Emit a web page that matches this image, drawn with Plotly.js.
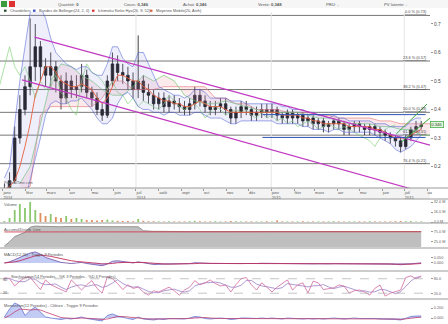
<!DOCTYPE html>
<html><head><meta charset="utf-8">
<script src="https://cdn.plot.ly/plotly-3.0.1.min.js"></script>
<style>html,body{margin:0;padding:0;background:#fff}#chart{width:448px;height:324px}</style>
</head><body><div id="chart"></div>
<script>
// ---------- DATA (weekly) ----------
const firstWeek = '2014-01-03';
const opens  = [0.10,0.12,0.15,0.30,0.40,0.48,0.55,0.62,0.55,0.52,0.55,0.50,0.44,0.50,0.47,0.48,0.52,0.46,0.44,0.40,0.38,0.50,0.56,0.53,0.52,0.50,0.47,0.50,0.46,0.45,0.42,0.44,0.41,0.43,0.42,0.41,0.40,0.42,0.45,0.43,0.41,0.40,0.41,0.42,0.40,0.37,0.39,0.41,0.40,0.38,0.39,0.40,0.39,0.40,0.38,0.37,0.39,0.37,0.38,0.36,0.37,0.35,0.36,0.34,0.35,0.36,0.35,0.33,0.34,0.35,0.34,0.33,0.34,0.33,0.32,0.31,0.30,0.29,0.27,0.30,0.33,0.34];
const highs  = [0.14,0.18,0.34,0.45,0.52,0.72,0.70,0.64,0.58,0.60,0.57,0.52,0.53,0.52,0.52,0.56,0.54,0.48,0.46,0.42,0.52,0.60,0.59,0.56,0.55,0.53,0.66,0.52,0.49,0.47,0.46,0.46,0.45,0.45,0.44,0.43,0.44,0.48,0.47,0.45,0.43,0.43,0.44,0.44,0.41,0.41,0.43,0.43,0.41,0.41,0.42,0.42,0.42,0.41,0.39,0.40,0.40,0.39,0.39,0.38,0.38,0.37,0.37,0.36,0.37,0.37,0.36,0.35,0.36,0.36,0.35,0.35,0.35,0.34,0.33,0.32,0.31,0.30,0.31,0.34,0.36,0.36];
const lows   = [0.09,0.10,0.14,0.28,0.38,0.45,0.50,0.50,0.48,0.48,0.46,0.40,0.42,0.44,0.44,0.46,0.44,0.41,0.38,0.36,0.37,0.48,0.50,0.49,0.47,0.44,0.44,0.43,0.42,0.40,0.40,0.39,0.39,0.40,0.39,0.38,0.38,0.40,0.41,0.39,0.38,0.38,0.39,0.38,0.35,0.35,0.37,0.38,0.36,0.36,0.37,0.37,0.37,0.36,0.35,0.35,0.35,0.35,0.34,0.34,0.33,0.33,0.32,0.32,0.33,0.33,0.31,0.31,0.32,0.32,0.31,0.31,0.31,0.30,0.29,0.28,0.27,0.25,0.26,0.29,0.32,0.33];
const closes = [0.12,0.15,0.30,0.40,0.48,0.55,0.62,0.55,0.52,0.55,0.50,0.44,0.50,0.47,0.48,0.52,0.46,0.44,0.40,0.38,0.50,0.56,0.53,0.52,0.50,0.47,0.50,0.46,0.45,0.42,0.44,0.41,0.43,0.42,0.41,0.40,0.42,0.45,0.43,0.41,0.40,0.41,0.42,0.40,0.37,0.39,0.41,0.40,0.38,0.39,0.40,0.39,0.40,0.38,0.37,0.39,0.37,0.38,0.36,0.37,0.35,0.36,0.34,0.35,0.36,0.35,0.33,0.34,0.35,0.34,0.33,0.34,0.33,0.32,0.31,0.30,0.29,0.27,0.30,0.33,0.34,0.346];
const bollUpper = [0.16,0.20,0.35,0.50,0.62,0.74,0.78,0.76,0.72,0.65,0.60,0.58,0.56,0.55,0.54,0.55,0.55,0.53,0.52,0.52,0.56,0.62,0.62,0.58,0.56,0.55,0.60,0.60,0.56,0.52,0.48,0.47,0.46,0.45,0.45,0.44,0.45,0.47,0.47,0.46,0.44,0.44,0.44,0.44,0.43,0.43,0.43,0.42,0.42,0.42,0.42,0.42,0.42,0.42,0.41,0.41,0.40,0.40,0.40,0.39,0.39,0.38,0.38,0.37,0.38,0.37,0.37,0.36,0.36,0.36,0.36,0.36,0.35,0.35,0.35,0.34,0.34,0.34,0.34,0.36,0.37,0.37];
const bollLower = [0.08,0.08,0.05,0.05,0.08,0.15,0.22,0.30,0.38,0.42,0.43,0.42,0.42,0.43,0.43,0.44,0.42,0.40,0.37,0.35,0.35,0.37,0.42,0.45,0.46,0.44,0.41,0.40,0.40,0.39,0.39,0.38,0.39,0.39,0.38,0.38,0.38,0.39,0.39,0.38,0.37,0.37,0.37,0.36,0.35,0.35,0.36,0.36,0.36,0.36,0.36,0.36,0.36,0.35,0.35,0.35,0.35,0.35,0.34,0.34,0.33,0.33,0.33,0.32,0.33,0.33,0.32,0.32,0.32,0.32,0.32,0.32,0.31,0.30,0.29,0.28,0.26,0.25,0.26,0.27,0.29,0.31];
const ma20 = [0.12,0.13,0.15,0.20,0.27,0.35,0.45,0.50,0.55,0.55,0.53,0.50,0.49,0.48,0.48,0.49,0.48,0.47,0.44,0.42,0.44,0.48,0.52,0.52,0.51,0.50,0.50,0.48,0.47,0.45,0.44,0.43,0.43,0.42,0.42,0.41,0.41,0.42,0.43,0.42,0.41,0.41,0.41,0.40,0.39,0.39,0.39,0.39,0.39,0.39,0.39,0.39,0.39,0.39,0.38,0.38,0.38,0.38,0.37,0.37,0.36,0.36,0.35,0.35,0.35,0.35,0.35,0.34,0.34,0.34,0.34,0.34,0.33,0.33,0.32,0.31,0.30,0.30,0.30,0.31,0.32,0.33];
// Ichimoku cloud (bi-weekly, already shifted forward)
const cloudStart = '2014-01-24';
const senkouA = [0.14,0.20,0.35,0.50,0.56,0.55,0.52,0.50,0.47,0.45,0.45,0.48,0.52,0.50,0.52,0.50,0.45,0.43,0.42,0.42,0.43,0.42,0.41,0.40,0.39,0.39,0.39,0.39,0.38,0.37,0.37,0.36,0.35,0.35,0.35,0.34,0.34,0.33,0.33,0.31,0.31];
const senkouB = [0.12,0.13,0.38,0.41,0.41,0.41,0.41,0.41,0.44,0.50,0.50,0.47,0.47,0.47,0.48,0.48,0.48,0.48,0.48,0.44,0.44,0.42,0.42,0.40,0.40,0.40,0.39,0.39,0.39,0.38,0.38,0.37,0.37,0.37,0.37,0.36,0.36,0.35,0.35,0.35,0.35];
// Fibonacci retracement
const fibLevels = [0.73,0.57,0.47,0.39,0.31,0.21];
const fibNames  = ['0.0 % (0.73)','23.6 % (0.57)','38.2 % (0.47)','50.0 % (0.39)','61.8 % (0.31)','76.4 % (0.21)'];
// drawn trend lines
const chanUpDates = ['2014-02-13','2015-08-05'], chanUpVals = [0.654,0.275];
const chanLoDates = ['2014-01-27','2015-08-05'], chanLoVals = [0.504,0.103];
const boxDates = ['2014-12-20','2015-07-30'], boxTop = 0.382, boxBot = 0.302;
const greenA_Dates = ['2015-06-20','2015-08-01'], greenA_Vals = [0.314,0.419];
const greenB_Dates = ['2015-06-27','2015-08-05'], greenB_Vals = [0.286,0.370];
// volume (relative units)
const volume = [5,20,60,90,70,100,60,45,30,40,25,20,30,15,20,15,10,10,8,10,12,8,6,5,5,4,15,6,4,4,3,3,4,3,3,3,4,6,4,3,3,4,3,3,5,4,3,3,3,3,3,4,3,8,3,3,3,3,4,3,3,3,3,3,4,3,3,3,3,3,3,4,3,3,3,3,4,5,4,5,3,3];
// accumulation / distribution
const accDist = [5,25,50,62,70,95,100,99,98,98,97,97,98,98,98,97,97,97,96,96,98,99,99,99,98,98,97,78,75,75,75,74,74,74,74,74,74,75,75,74,74,74,74,74,73,73,74,74,74,74,74,74,74,75,74,74,74,74,74,73,73,73,73,73,73,73,73,73,73,73,73,73,73,73,73,73,73,72,73,74,74,74];
const accDistMa = [72,72,72,72,72,72,72,72,73,73,73,73,73,73,73,73,73,73,73,73,73,73,73,73,73,73,73,73,73,73,73,73,73,73,73,73,73,73,73,73,73,73,73,73,73,73,73,73,73,73,73,73,73,73,73,73,73,73,73,73,73,73,73,73,73,73,73,73,73,73,73,73,73,73,73,73,73,73,73,73,73,73];
// MACD
const macd = [0,0.01,0.03,0.05,0.07,0.09,0.10,0.08,0.05,0.035,0.02,0.005,0,-0.005,0,0.005,-0.005,-0.01,-0.02,-0.025,-0.01,0.015,0.02,0.012,0.006,0,0.01,0.002,-0.008,-0.014,-0.012,-0.012,-0.01,-0.009,-0.009,-0.01,-0.006,0.002,0.002,-0.002,-0.005,-0.005,-0.004,-0.005,-0.01,-0.008,-0.004,-0.004,-0.006,-0.005,-0.003,-0.004,-0.003,-0.005,-0.007,-0.005,-0.006,-0.005,-0.007,-0.006,-0.008,-0.007,-0.009,-0.008,-0.006,-0.006,-0.008,-0.007,-0.006,-0.006,-0.007,-0.006,-0.007,-0.008,-0.009,-0.011,-0.013,-0.016,-0.012,-0.006,-0.002,0.001];
const macdSignal = [0,0.003,0.01,0.02,0.035,0.05,0.065,0.072,0.068,0.06,0.05,0.038,0.028,0.02,0.014,0.011,0.007,0.003,-0.003,-0.009,-0.01,-0.005,0.002,0.006,0.006,0.004,0.006,0.005,0.001,-0.004,-0.007,-0.009,-0.01,-0.01,-0.009,-0.009,-0.009,-0.006,-0.003,-0.002,-0.003,-0.004,-0.004,-0.005,-0.007,-0.007,-0.006,-0.005,-0.005,-0.005,-0.004,-0.004,-0.004,-0.004,-0.005,-0.005,-0.006,-0.005,-0.006,-0.006,-0.007,-0.007,-0.008,-0.008,-0.007,-0.007,-0.007,-0.007,-0.007,-0.006,-0.006,-0.006,-0.007,-0.007,-0.008,-0.009,-0.011,-0.013,-0.013,-0.011,-0.008,-0.005];
// Stochastic
const stochK = [85,80,50,70,85,87,60,35,75,55,45,35,25,75,55,33,55,72,40,20,88,80,60,35,55,40,45,25,12,30,25,35,45,30,12,33,45,72,55,63,75,60,50,54,25,55,80,85,55,33,63,45,25,45,60,75,33,55,63,21,70,63,35,40,42,54,50,21,30,33,25,12,40,54,8,20,25,33,85,92,80,92];
const stochD = [80,82,72,68,68,80,78,62,55,55,58,45,35,45,52,55,48,53,55,44,50,62,76,60,50,45,47,37,27,22,22,30,35,37,29,25,30,50,58,63,64,66,62,55,45,45,53,73,73,58,50,47,44,38,43,60,56,54,50,46,51,51,56,46,39,45,49,42,34,28,30,24,26,35,34,27,18,26,48,70,86,88];
// Momentum
const momentum = [0.02,0.18,0.30,0.25,0.05,0.15,0.22,0.12,0.02,0,-0.01,-0.03,-0.01,-0.02,0,0.02,-0.01,-0.03,-0.05,-0.06,0.05,0.08,0.04,0.01,-0.01,-0.03,0.02,-0.02,-0.03,-0.04,-0.02,-0.03,-0.01,-0.01,-0.02,-0.02,0,0.03,0.02,-0.01,-0.02,-0.01,0,-0.01,-0.03,-0.02,0,0,-0.01,-0.01,0,-0.01,0,-0.01,-0.02,0,-0.01,-0.01,-0.02,-0.01,-0.02,-0.01,-0.02,-0.01,0,-0.01,-0.02,-0.01,0,-0.01,-0.01,0,-0.01,-0.02,-0.02,-0.03,-0.03,-0.04,0,0.03,0.04,0.04];
const momTrigger = [0,0.05,0.12,0.18,0.17,0.16,0.17,0.16,0.12,0.08,0.04,0.01,0,-0.01,-0.01,0,0,-0.01,-0.02,-0.03,-0.02,0,0.03,0.03,0.02,0,0,-0.01,-0.02,-0.02,-0.02,-0.02,-0.02,-0.01,-0.01,-0.01,-0.01,0,0.01,0.01,0,-0.01,-0.01,-0.01,-0.01,-0.01,-0.01,-0.01,-0.01,-0.01,-0.01,-0.01,-0.01,-0.01,-0.01,-0.01,-0.01,-0.01,-0.01,-0.01,-0.01,-0.01,-0.01,-0.01,-0.01,-0.01,-0.01,-0.01,-0.01,-0.01,-0.01,-0.01,-0.01,-0.01,-0.01,-0.02,-0.02,-0.03,-0.02,-0.01,0.01,0.02];
// axis ticks
const monthTicks  = ['2014-01-01','2014-02-01','2014-03-01','2014-04-01','2014-05-01','2014-06-01','2014-07-01','2014-08-01','2014-09-01','2014-10-01','2014-11-01','2014-12-01','2015-01-01','2015-02-01','2015-03-01','2015-04-01','2015-05-01','2015-06-01','2015-07-01','2015-08-01'];
const monthLabels = ['janv<br>2014','févr','mars','avr','mai','juin','juil<br>2014','août','sept','oct','nov','déc','janv<br>2015','févr','mars','avr','mai','juin','juil<br>2015','ao'];
const priceTicks = [0.2,0.3,0.4,0.5,0.6,0.7];
const lastPrice = 0.346;

// ---------- helpers ----------
function dateSeq(start, n, stepDays, shiftDays) {
  const out = []; const d0 = new Date(start + 'T00:00:00Z');
  for (let i = 0; i < n; i++) {
    const d = new Date(d0.getTime() + (i * stepDays + (shiftDays||0)) * 86400000);
    out.push(d.toISOString().slice(0,10));
  }
  return out;
}
const wk = dateSeq(firstWeek, closes.length, 7, 0);
const chikouDates = dateSeq(firstWeek, closes.length, 7, -35);
const cloudDates = dateSeq(cloudStart, senkouA.length, 14, 0);
const H = 324, W = 430;
const py = p => 1 - p / H;
const FONT = 'Liberation Sans, Arial, sans-serif';
const TXT = 3.9;

const traces = [
  {x: cloudDates, y: senkouB, type:'scatter', mode:'lines', line:{color:'rgba(230,110,110,0.75)', width:0.8}, hoverinfo:'skip'},
  {x: cloudDates, y: senkouA, type:'scatter', mode:'lines', fill:'tonexty', fillcolor:'rgba(240,140,150,0.18)', line:{color:'rgba(110,200,110,0.85)', width:0.8}, hoverinfo:'skip'},
  {x: chikouDates, y: closes, type:'scatter', mode:'lines', line:{color:'rgba(130,210,120,0.85)', width:0.8}, hoverinfo:'skip'},
  {x: wk, y: bollLower, type:'scatter', mode:'lines', line:{color:'rgba(70,90,210,0.75)', width:0.7}, hoverinfo:'skip'},
  {x: wk, y: bollUpper, type:'scatter', mode:'lines', fill:'tonexty', fillcolor:'rgba(160,160,240,0.17)', line:{color:'rgba(70,90,210,0.75)', width:0.7}, hoverinfo:'skip'},
  {x: wk, y: ma20, type:'scatter', mode:'lines', line:{color:'#e8603c', width:0.9}, hoverinfo:'skip'},
  {x: wk, open: opens, high: highs, low: lows, close: closes, type:'candlestick', whiskerwidth:0,
   increasing:{line:{color:'#111', width:0.8}, fillcolor:'#111'}, decreasing:{line:{color:'#111', width:0.8}, fillcolor:'#111'}, hoverinfo:'skip'},
  {x: wk, y: volume, type:'bar', yaxis:'y2', marker:{color: closes.map((c,i)=> c>=opens[i] ? '#8cc870' : '#e09060')}, width: 2.5*86400000, hoverinfo:'skip'},
  {x: wk, y: accDist, type:'scatter', mode:'lines', yaxis:'y3', fill:'tozeroy', fillcolor:'rgba(170,170,170,0.75)', line:{color:'#777', width:0.7}, hoverinfo:'skip'},
  {x: wk, y: accDistMa, type:'scatter', mode:'lines', yaxis:'y3', line:{color:'#d04050', width:0.9}, hoverinfo:'skip'},
  {x: wk, y: macd, type:'scatter', mode:'lines', yaxis:'y4', fill:'tozeroy', fillcolor:'rgba(120,140,230,0.45)', line:{color:'#7a5fb0', width:0.9}, hoverinfo:'skip'},
  {x: wk, y: macdSignal, type:'scatter', mode:'lines', yaxis:'y4', line:{color:'#c03060', width:0.9}, hoverinfo:'skip'},
  {x: wk, y: stochD, type:'scatter', mode:'lines', yaxis:'y5', line:{color:'#9a80c8', width:0.8}, hoverinfo:'skip'},
  {x: wk, y: stochK, type:'scatter', mode:'lines', yaxis:'y5', line:{color:'#d06aa0', width:0.8}, hoverinfo:'skip'},
  {x: wk, y: momentum, type:'scatter', mode:'lines', yaxis:'y6', fill:'tozeroy', fillcolor:'rgba(120,140,230,0.45)', line:{color:'#6a78d0', width:0.8}, hoverinfo:'skip'},
  {x: wk, y: momTrigger, type:'scatter', mode:'lines', yaxis:'y6', line:{color:'#c04070', width:0.8}, hoverinfo:'skip'}
];

const smallAxis = (dom, rng, tv, tt) => ({domain:dom, range:rng, side:'right', anchor:'x', showgrid:false, zeroline:false,
  tickvals:tv, ticktext:tt, ticks:'outside', ticklen:2, tickcolor:'#999', tickfont:{size:3.8, color:'#666', family:FONT}, fixedrange:true});

const shapes = [];
const annotations = [];
// toolbar
shapes.push({type:'rect', xref:'paper', yref:'paper', x0:0, x1:448/W, y0:py(8), y1:1, fillcolor:'#f6f6f6', line:{width:0}, layer:'below'});
shapes.push({type:'rect', xref:'paper', yref:'paper', x0:1/W, x1:7/W, y0:py(7), y1:py(1), fillcolor:'#3c9c3c', line:{width:0}});
shapes.push({type:'rect', xref:'paper', yref:'paper', x0:9/W, x1:15/W, y0:py(7), y1:py(1), fillcolor:'#d33', line:{width:0}});
const toolbarItems = [['Quantité: <b>0</b>',68],['Cours: <b>0,346</b>',136],['Achat: <b>0,346</b>',195],['Vente: <b>0,348</b>',270],['PRU: -',332],['PV latente: -',396]];
toolbarItems.forEach(t => annotations.push({xref:'paper', yref:'paper', x:t[1]/W, y:py(4), text:t[0], showarrow:false, font:{size:4.2, color:'#555', family:FONT}, xanchor:'center', yanchor:'middle'}));
// legend
const legendItems = [['Chandeliers',4,'#2a4a2a'],['Bandes de Bollinger(24, 2, 0)',33,'#3b4fc4'],['Ichimoku Kinko Hyo(26, 9, 52)',92,'#d33'],['Moyenne Mobile(20, Arith)',150,'#e8603c']];
legendItems.forEach(t => {
  shapes.push({type:'rect', xref:'paper', yref:'paper', x0:t[1]/W, x1:(t[1]+2.5)/W, y0:py(11.8), y1:py(9.6), fillcolor:t[2], line:{width:0}});
  annotations.push({xref:'paper', yref:'paper', x:(t[1]+3.8)/W, y:py(10.8), text:t[0], showarrow:false, font:{size:TXT, color:'#555', family:FONT}, xanchor:'left', yanchor:'middle'});
});
// fib lines + labels
fibLevels.forEach((v,i) => {
  shapes.push({type:'line', xref:'paper', yref:'y', x0:0, x1:1, y0:v, y1:v, line:{color:'#777', width:1}, layer:'below'});
  annotations.push({xref:'paper', yref:'y', x:0.997, y:v, text:'<u>'+fibNames[i]+'</u>', showarrow:false, font:{size:TXT, color:'#444', family:FONT}, xanchor:'right', yanchor:'bottom', yshift:-1});
});
// year separators
['2014-07-01','2015-01-01','2015-07-01'].forEach(d => shapes.push({type:'line', xref:'x', yref:'paper', x0:d, x1:d, y0:py(188), y1:py(12), line:{color:'#e4e4e4', width:1}, layer:'below'}));
// channels & drawn lines
shapes.push({type:'line', xref:'x', yref:'y', x0:chanUpDates[0], x1:chanUpDates[1], y0:chanUpVals[0], y1:chanUpVals[1], line:{color:'#c23bc2', width:1.2}});
shapes.push({type:'line', xref:'x', yref:'y', x0:chanLoDates[0], x1:chanLoDates[1], y0:chanLoVals[0], y1:chanLoVals[1], line:{color:'#c23bc2', width:1.2}});
shapes.push({type:'line', xref:'x', yref:'y', x0:boxDates[0], x1:boxDates[1], y0:boxTop, y1:boxTop, line:{color:'#2f55b8', width:1}});
shapes.push({type:'line', xref:'x', yref:'y', x0:boxDates[0], x1:boxDates[1], y0:boxBot, y1:boxBot, line:{color:'#2f55b8', width:1}});
shapes.push({type:'line', xref:'x', yref:'y', x0:greenA_Dates[0], x1:greenA_Dates[1], y0:greenA_Vals[0], y1:greenA_Vals[1], line:{color:'#3aa83a', width:1}});
shapes.push({type:'line', xref:'x', yref:'y', x0:greenB_Dates[0], x1:greenB_Dates[1], y0:greenB_Vals[0], y1:greenB_Vals[1], line:{color:'#3aa83a', width:1}});
// panel separators
[188,199,223,248,271,299].forEach(y => shapes.push({type:'line', xref:'paper', yref:'paper', x0:0, x1:448/W, y0:py(y), y1:py(y), line:{color:'#999', width:1}}));
shapes.push({type:'rect', xref:'paper', yref:'paper', x0:0, x1:1, y0:py(199), y1:py(188), fillcolor:'#f3f3f3', line:{width:0}, layer:'below'});
// stochastic 80/20 guides
[80,20].forEach(v => shapes.push({type:'line', xref:'paper', yref:'y5', x0:0, x1:1, y0:v, y1:v, line:{color:'#aaa', width:0.7, dash:'dash'}}));
annotations.push({xref:'paper', yref:'y5', x:0.002, y:76, text:'80', showarrow:false, font:{size:3.8, color:'#555', family:FONT}, xanchor:'left'});
annotations.push({xref:'paper', yref:'y5', x:0.002, y:20, text:'20', showarrow:false, font:{size:3.8, color:'#555', family:FONT}, xanchor:'left'});
// panel titles
const panelTitles = [['Volume',200,2],['Accumul/Distrib. Line',224.5,2],['MACD(12,26) - Trigger 9 Periodes',249.5,2],['Stochastique(14 Periodes - %K 3 Periodes - %D 3 Periodes)',272.3,9],['Momentum(12 Periodes) - Clôture - Trigger 9 Periodes',300.5,2]];
panelTitles.forEach(t => annotations.push({xref:'paper', yref:'paper', x:t[2]/W, y:py(t[1]), text:t[0], showarrow:false, font:{size:TXT, color:'#555', family:FONT}, xanchor:'left', yanchor:'top'}));
annotations.push({xref:'paper', yref:'paper', x:2/W, y:py(187), text:'ProRealTime.com', showarrow:false, font:{size:3.6, color:'#666', family:FONT}, xanchor:'left', yanchor:'bottom'});
// last price tag
annotations.push({xref:'paper', yref:'y', x:1, y:lastPrice, text:'0.346', showarrow:false, font:{size:4.2, color:'#1f4f1f', family:FONT}, bgcolor:'#e4f4dc', bordercolor:'#4caf50', borderwidth:0.8, borderpad:0.4, xanchor:'left', yanchor:'middle', xshift:0});

const layout = {
  width:448, height:324, margin:{l:0, r:18, t:0, b:0}, paper_bgcolor:'#fff', plot_bgcolor:'#fff', showlegend:false,
  font:{family:FONT, size:6, color:'#444'}, hovermode:false, dragmode:false,
  xaxis:{type:'date', range:['2013-12-28','2015-08-05'], anchor:'y', domain:[0,1], rangeslider:{visible:false},
    tickvals:monthTicks, ticktext:monthLabels, ticklabelposition:'outside right', ticks:'outside', ticklen:2, tickcolor:'#999',
    tickfont:{size:4, color:'#555', family:FONT}, showgrid:false, zeroline:false, showline:false, fixedrange:true},
  yaxis:{domain:[py(188), py(12)], range:[0.1246, 0.742], side:'right', anchor:'x', showgrid:false, zeroline:false,
    tickvals:priceTicks, ticks:'outside', ticklen:2, tickcolor:'#999', tickfont:{size:4.8, color:'#444', family:FONT}, fixedrange:true},
  yaxis2: smallAxis([py(222), py(200)], [0,110], [0,50,100], ['0.0 M','16.0 M','32.0 M']),
  yaxis3: smallAxis([py(247), py(224)], [0,110], [25,75], ['25.0 M','75.0 M']),
  yaxis4: smallAxis([py(270), py(249)], [-0.064,0.127], [0,0.05], ['0.000','0.050']),
  yaxis5: smallAxis([py(298), py(272)], [0,108], [20,80], ['20.0','80.0']),
  yaxis6: smallAxis([py(324), py(300)], [-0.12,0.36], [0,0.2], ['0.000','0.200']),
  shapes: shapes, annotations: annotations
};
Plotly.newPlot('chart', traces, layout, {staticPlot:true, displayModeBar:false});
</script></body></html>
